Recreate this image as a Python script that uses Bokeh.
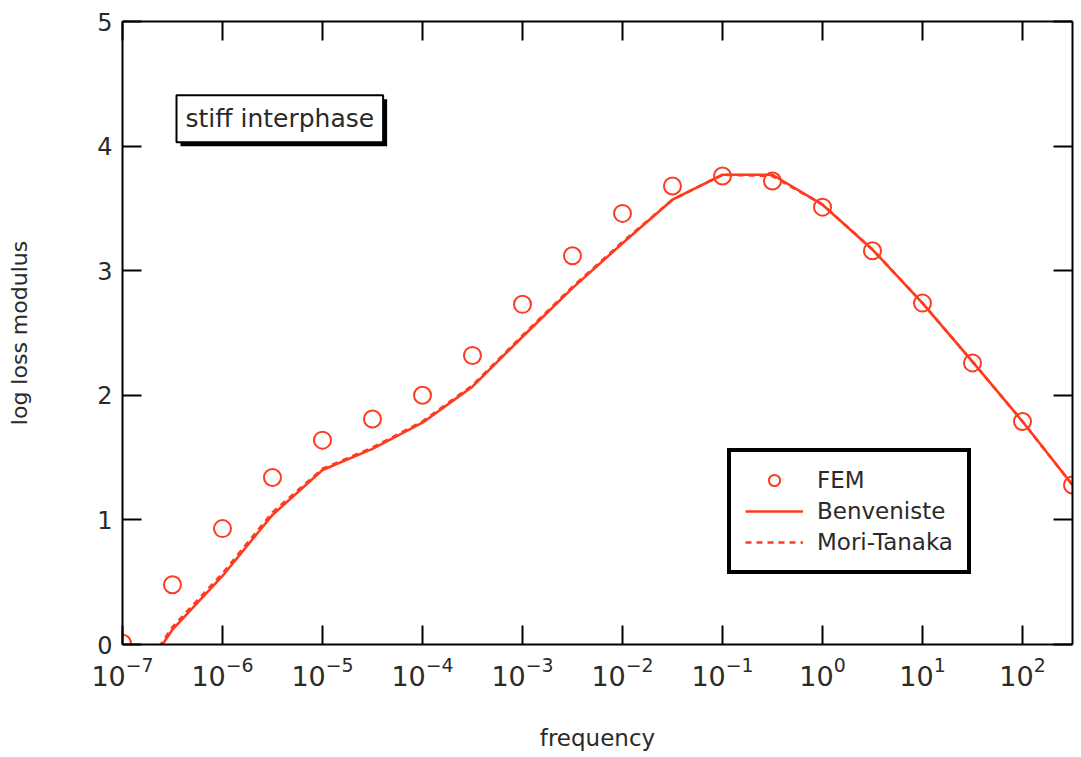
from bokeh.plotting import figure
from bokeh.models import (ColumnDataSource, Legend, LegendItem, Label, LinearAxis, LogAxis,
                          FixedTicker, Range1d)
from bokeh.embed import file_html
from bokeh.resources import INLINE

# ---- data ----
fem_freq = [1e-7, 3.16e-7, 1e-6, 3.16e-6, 1e-5, 3.16e-5, 1e-4, 3.16e-4, 1e-3, 3.16e-3,
            1e-2, 3.16e-2, 1e-1, 3.16e-1, 1e0, 3.16e0, 1e1, 3.16e1, 1e2, 3.16e2]
fem_val = [0.01, 0.48, 0.93, 1.34, 1.64, 1.81, 2.00, 2.32, 2.73, 3.12,
           3.46, 3.68, 3.76, 3.72, 3.51, 3.16, 2.74, 2.26, 1.79, 1.28]

model_freq = fem_freq
benveniste_val = [-0.48, 0.12, 0.55, 1.04, 1.40, 1.57, 1.78, 2.07, 2.47, 2.86,
                  3.22, 3.57, 3.77, 3.77, 3.53, 3.17, 2.74, 2.27, 1.79, 1.28]
mori_tanaka_val = [-0.46, 0.14, 0.57, 1.06, 1.41, 1.58, 1.79, 2.08, 2.48, 2.87,
                   3.23, 3.57, 3.77, 3.76, 3.53, 3.17, 2.74, 2.27, 1.79, 1.28]

x_ticks = [1e-7, 1e-6, 1e-5, 1e-4, 1e-3, 1e-2, 1e-1, 1e0, 1e1, 1e2]
y_ticks = [0, 1, 2, 3, 4, 5]

RED = "#ff3b1f"
FONT = "DejaVu Sans"
TXT = "#2a2a2a"

p = figure(width=1081, height=757, x_axis_type="log", output_backend="svg",
           toolbar_location=None, x_range=Range1d(1e-7, 10 ** 2.5), y_range=Range1d(0, 5),
           min_border_left=122, min_border_right=9, min_border_top=21, min_border_bottom=113)
p.grid.visible = False
p.outline_line_color = None
p.background_fill_color = "white"
p.border_fill_color = "white"

mt = p.line(model_freq, mori_tanaka_val, line_color=RED, line_width=2.6, line_dash="6 5")
bv = p.line(model_freq, benveniste_val, line_color=RED, line_width=2.6)
fe = p.scatter(fem_freq, fem_val, marker="circle", size=17, fill_color=None,
               line_color=RED, line_width=2)

def style_axis(ax, labels=True):
    ax.axis_line_color = "black"
    ax.axis_line_width = 2
    ax.major_tick_line_color = "black"
    ax.major_tick_line_width = 2
    ax.major_tick_in = 19
    ax.major_tick_out = 0
    ax.minor_tick_line_color = None
    if labels:
        ax.major_label_text_font = FONT
        ax.major_label_text_color = TXT
    else:
        ax.major_label_text_font_size = "0px"
        ax.major_label_text_alpha = 0
        ax.major_label_standoff = 0

xa = p.xaxis[0]
style_axis(xa)
xa.ticker = FixedTicker(ticks=x_ticks)
xa.major_label_text_font_size = "27px"
xa.major_label_standoff = 12
xa.axis_label = "frequency"
xa.axis_label_text_font = FONT
xa.axis_label_text_font_style = "normal"
xa.axis_label_text_font_size = "23px"
xa.axis_label_text_color = TXT
xa.axis_label_standoff = 36

ya = p.yaxis[0]
style_axis(ya)
ya.ticker = FixedTicker(ticks=y_ticks)
ya.major_label_text_font_size = "24px"
ya.major_label_standoff = 10
ya.axis_label = "log loss modulus"
ya.axis_label_text_font = FONT
ya.axis_label_text_font_style = "normal"
ya.axis_label_text_font_size = "22px"
ya.axis_label_text_color = TXT
ya.axis_label_standoff = 62

top = LogAxis(ticker=FixedTicker(ticks=x_ticks))
style_axis(top, labels=False)
p.add_layout(top, "above")
right = LinearAxis(ticker=FixedTicker(ticks=y_ticks))
style_axis(right, labels=False)
p.add_layout(right, "right")

legend = Legend(items=[LegendItem(label="FEM", renderers=[fe]),
                       LegendItem(label="Benveniste", renderers=[bv]),
                       LegendItem(label="Mori-Tanaka", renderers=[mt])],
                location=(605, 70), orientation="vertical")
legend.border_line_color = "black"
legend.border_line_alpha = 1
legend.border_line_width = 4
legend.background_fill_color = "white"
legend.background_fill_alpha = 1
legend.label_text_font = FONT
legend.label_text_font_size = "23px"
legend.label_text_color = TXT
legend.glyph_width = 58
legend.glyph_height = 28
legend.label_height = 28
legend.spacing = 3
legend.padding = 14
legend.margin = 0
legend.label_standoff = 14
p.add_layout(legend, "center")

shadow = Label(x=10 ** -6.46, y=4.22, text="stiff interphase", text_font=FONT,
               text_font_size="25px", text_color="black", text_baseline="middle",
               background_fill_color="black", background_fill_alpha=1,
               x_offset=4, y_offset=-4, padding=9)
box = Label(x=10 ** -6.46, y=4.22, text="stiff interphase", text_font=FONT,
            text_font_size="25px", text_color=TXT, text_baseline="middle",
            background_fill_color="white", background_fill_alpha=1,
            border_line_color="black", border_line_width=2, padding=9)
p.add_layout(shadow)
p.add_layout(box)

open("out.html", "w").write(file_html(p, INLINE))
